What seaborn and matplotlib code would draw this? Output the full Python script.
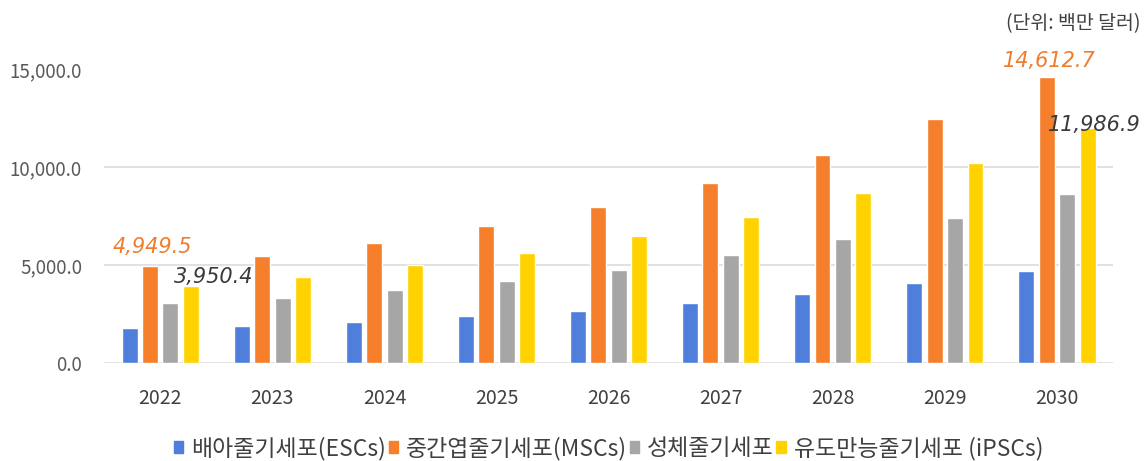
import matplotlib
matplotlib.use("Agg")
import matplotlib.pyplot as plt
from matplotlib.ticker import FuncFormatter, MultipleLocator
import seaborn as sns
import pandas as pd

# Stem cell market forecast (unit: USD million)
years = ["2022", "2023", "2024", "2025", "2026", "2027", "2028", "2029", "2030"]
series_names = ["배아줄기세포(ESCs)", "중간엽줄기세포(MSCs)", "성체줄기세포", "유도만능줄기세포 (iPSCs)"]
esc = [1790, 1890, 2100, 2390, 2650, 3060, 3500, 4080, 4700]
msc = [4949.5, 5460, 6110, 6970, 7980, 9200, 10600, 12450, 14612.7]
adult = [3060, 3320, 3740, 4210, 4760, 5520, 6320, 7400, 8620]
ipsc = [3950.4, 4390, 4980, 5620, 6490, 7470, 8660, 10200, 11986.9]
colors = ["#4F7FDB", "#F57F2A", "#A6A6A6", "#FFD200"]
unit_label = "(단위: 백만 달러)"

df = pd.DataFrame({
    "year": years * 4,
    "series": [s for s in series_names for _ in years],
    "value": esc + msc + adult + ipsc,
})

sns.set_theme(style="white")
plt.rcParams["font.family"] = ["Noto Sans CJK KR", "DejaVu Sans"]

fig = plt.figure(figsize=(11.45, 4.61), dpi=100)
ax = fig.add_axes([0.091, 0.2126, 0.881, 0.6374])

sns.barplot(data=df, x="year", y="value", hue="series", hue_order=series_names,
            palette=colors, width=0.73, gap=0.22, saturation=1, ax=ax,
            errorbar=None, legend=False)

ax.set_ylim(0, 15000)
ax.set_xlim(-0.5, len(years) - 0.5)
ax.yaxis.set_major_locator(MultipleLocator(5000))
ax.yaxis.set_major_formatter(FuncFormatter(lambda v, p: f"{v:,.1f}"))
for y in (0, 5000, 10000):
    ax.axhline(y, color="#D9D9D9", lw=1.1, zorder=0)
for s in ax.spines.values():
    s.set_visible(False)
ax.set_xlabel("")
ax.set_ylabel("")
ax.tick_params(axis="y", length=0, labelsize=13.5, labelcolor="#595959", pad=16)
ax.tick_params(axis="x", length=0, labelsize=14, labelcolor="#404040", pad=18)

# Value callouts on the first and last years
callouts = [
    (1, 0, "#F07C2C", (2, 14)),
    (3, 0, "#3A3A3A", (16.5, 6.5)),
    (1, len(years) - 1, "#F07C2C", (2, 11.5)),
    (3, len(years) - 1, "#3A3A3A", (5, 2)),
]
for hue_idx, year_idx, col, off in callouts:
    bar = ax.containers[hue_idx][year_idx]
    val = [esc, msc, adult, ipsc][hue_idx][year_idx]
    ax.annotate(f"{val:,.1f}", (bar.get_x() + bar.get_width() / 2, val),
                xytext=off, textcoords="offset points", ha="center", va="center",
                fontsize=15, fontstyle="italic", color=col,
                family=["DejaVu Sans"])

handles = [plt.Rectangle((0, 0), 1, 1, color=c) for c in colors]
ax.legend(handles, series_names, loc="center", bbox_to_anchor=(0.5, -0.29),
          ncol=4, frameon=False, fontsize=16.5, handlelength=0.42, handleheight=0.42,
          handletextpad=0.35, columnspacing=0.1, labelcolor="#404040")

fig.text(0.996, 0.948, unit_label, ha="right", va="center", fontsize=14, color="#404040")

fig.savefig("out.png", dpi=100)
